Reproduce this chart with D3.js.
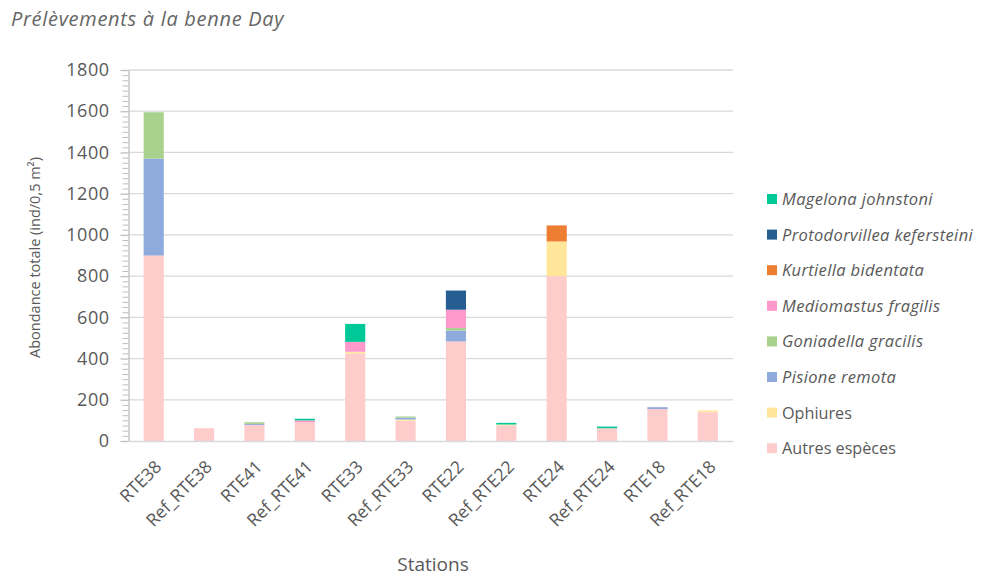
<!DOCTYPE html>
<html>
<head>
<meta charset="utf-8">
<script src="https://cdn.jsdelivr.net/npm/d3@7"></script>
<style>
  html, body { margin: 0; padding: 0; background: #fff; }
  svg { display: block; font-family: "Open Sans", "Noto Sans", sans-serif; }
</style>
</head>
<body>
<svg id="chart" width="982" height="580"></svg>
<script>
// ---- Data ----
const stations = ["RTE38", "Ref_RTE38", "RTE41", "Ref_RTE41", "RTE33", "Ref_RTE33",
                  "RTE22", "Ref_RTE22", "RTE24", "Ref_RTE24", "RTE18", "Ref_RTE18"];
// Series in stacking order (bottom to top)
const seriesNames = ["Autres espèces", "Ophiures", "Pisione remota", "Goniadella gracilis",
                     "Mediomastus fragilis", "Kurtiella bidentata", "Protodorvillea kefersteini", "Magelona johnstoni"];
const italicSeries = [false, false, true, true, true, true, true, true];
const seriesColors = ["#FFCCCC", "#FFE699", "#8FAADC", "#A9D18E", "#FF99CC", "#ED7D31", "#255E91", "#00C896"];

const autres         = [900, 62, 78, 92, 425, 98, 483, 76, 800, 62, 155, 140];
const ophiures       = [0, 0, 0, 0, 8, 6, 0, 4, 168, 0, 0, 8];
const pisione        = [470, 0, 5, 0, 0, 9, 53, 0, 0, 0, 9, 0];
const goniadella     = [225, 0, 8, 0, 0, 6, 12, 0, 0, 0, 0, 0];
const mediomastus    = [0, 0, 0, 8, 48, 0, 89, 0, 0, 0, 0, 0];
const kurtiella      = [0, 0, 0, 0, 0, 0, 0, 0, 78, 0, 0, 0];
const protodorvillea = [0, 0, 0, 0, 0, 0, 93, 0, 0, 0, 0, 0];
const magelona       = [0, 0, 0, 8, 87, 0, 0, 8, 0, 8, 0, 0];

const seriesValues = [autres, ophiures, pisione, goniadella, mediomastus, kurtiella, protodorvillea, magelona];

const yMajorTicks = [0, 200, 400, 600, 800, 1000, 1200, 1400, 1600, 1800];
const yMinorStep = 25;

const titleText = "Prélèvements à la benne Day";
const yTitle = "Abondance totale (ind/0,5 m²)";
const xTitle = "Stations";

// ---- Build table ----
const table = stations.map((s, i) => {
  const row = { station: s };
  seriesNames.forEach((n, k) => row[n] = seriesValues[k][i]);
  return row;
});
const stacked = d3.stack().keys(seriesNames)(table);

// ---- Layout ----
const svg = d3.select("#chart");
const plotL = 128.5, plotR = 733, plotT = 70, plotB = 441;
const textColor = "#595959";

const x = d3.scaleBand().domain(stations).range([plotL, plotR]).paddingInner(0.6).paddingOuter(0.3);
const y = d3.scaleLinear().domain([0, 1800]).range([plotB, plotT]);
const color = d3.scaleOrdinal().domain(seriesNames).range(seriesColors);

// Gridlines
svg.append("g").selectAll("line").data(yMajorTicks.filter(d => d > 0)).join("line")
  .attr("x1", plotL).attr("x2", plotR)
  .attr("y1", d => y(d)).attr("y2", d => y(d))
  .attr("stroke", "#D9D9D9").attr("stroke-width", 1.3);

// Bars
svg.append("g").selectAll("g").data(stacked).join("g")
  .attr("fill", d => color(d.key))
  .selectAll("rect").data(d => d).join("rect")
  .attr("x", d => x(d.data.station))
  .attr("width", x.bandwidth())
  .attr("y", d => y(d[1]))
  .attr("height", d => Math.max(0, y(d[0]) - y(d[1])));

// Y axis: minor ticks
const minorTicks = d3.range(0, 1800 + 1, yMinorStep).filter(v => !yMajorTicks.includes(v));
svg.append("g")
  .attr("transform", `translate(${plotL},0)`)
  .call(d3.axisLeft(y).tickValues(minorTicks).tickSize(6).tickFormat(""))
  .call(g => g.select(".domain").remove())
  .call(g => g.selectAll("line").attr("stroke", "#BFBFBF").attr("stroke-width", 1));

// Y axis: major ticks
const yAxis = svg.append("g")
  .attr("transform", `translate(${plotL},0)`)
  .call(d3.axisLeft(y).tickValues(yMajorTicks).tickSize(8).tickPadding(11).tickFormat(d3.format("d")).tickSizeOuter(0));
yAxis.select(".domain").attr("stroke", "#BFBFBF").attr("stroke-width", 1.3);
yAxis.selectAll(".tick line").attr("stroke", "#BFBFBF").attr("stroke-width", 1.3);
yAxis.selectAll(".tick text").attr("fill", textColor).attr("font-size", 18)
  .attr("letter-spacing", 0.5)
  .attr("font-family", "'Open Sans', sans-serif");

// X axis baseline
const xAxis = svg.append("g")
  .attr("transform", `translate(0,${plotB})`)
  .call(d3.axisBottom(x).tickSize(0).tickPadding(0).tickSizeOuter(0));
xAxis.select(".domain").attr("stroke", "#D9D9D9").attr("stroke-width", 1.5);
xAxis.selectAll(".tick text")
  .attr("fill", textColor).attr("font-size", 17.5)
  .attr("font-family", "'Open Sans', sans-serif")
  .attr("text-anchor", "end")
  .attr("dy", 0)
  .attr("transform", "translate(9,27) rotate(-45)");

// Title
svg.append("text").attr("x", 11).attr("y", 26)
  .attr("fill", "#666").attr("font-size", 20).attr("font-style", "italic")
  .attr("letter-spacing", 0.7)
  .text(titleText);

// Y title
svg.append("text")
  .attr("transform", `translate(40,${(plotT + plotB) / 2 + 2}) rotate(-90)`)
  .attr("text-anchor", "middle").attr("fill", textColor).attr("font-size", 14.5)
  .text(yTitle);

// X title
svg.append("text").attr("x", 433).attr("y", 571)
  .attr("text-anchor", "middle").attr("fill", textColor).attr("font-size", 19)
  .text(xTitle);

// Legend (top to bottom reverse of stack order)
const legendOrder = seriesNames.slice().reverse();
const legend = svg.append("g");
const ly0 = 199, lstep = 35.6;
legendOrder.forEach((name, i) => {
  const k = seriesNames.indexOf(name);
  const cy = ly0 + i * lstep;
  legend.append("rect").attr("x", 767).attr("y", cy - 5).attr("width", 10).attr("height", 10)
    .attr("fill", seriesColors[k]);
  legend.append("text").attr("x", 782).attr("y", cy + 6)
    .attr("fill", textColor)
    .attr("font-size", italicSeries[k] ? 16.5 : 16.2)
    .attr("letter-spacing", italicSeries[k] ? 0.35 : 0)
    .attr("font-style", italicSeries[k] ? "italic" : "normal")
    .text(name);
});
</script>
</body>
</html>
